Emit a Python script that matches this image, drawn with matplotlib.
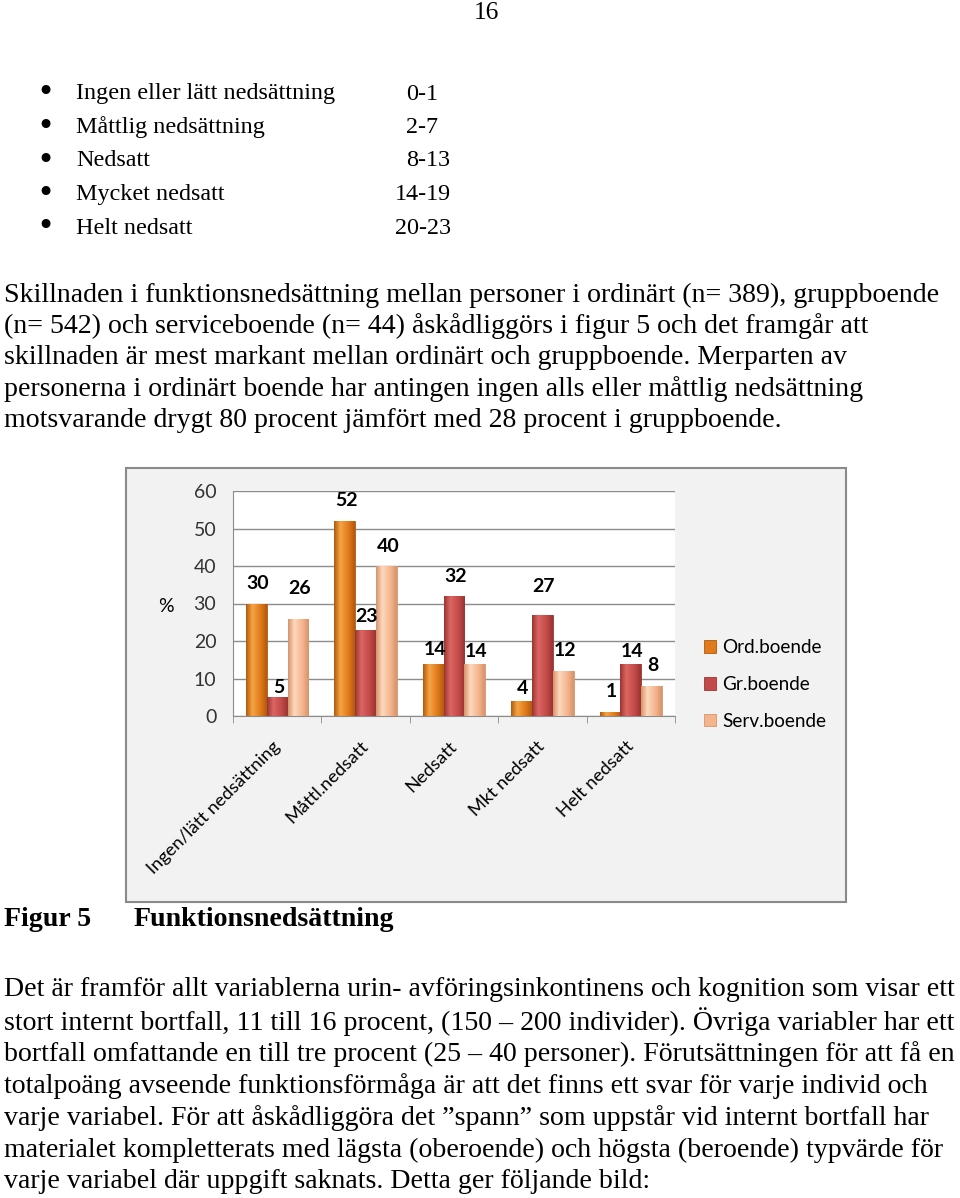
import numpy as np
import matplotlib.pyplot as plt
from matplotlib.colors import LinearSegmentedColormap
from matplotlib.patches import Rectangle, Patch
from matplotlib.transforms import ScaledTranslation

# chart data
categories = ['Ingen/lätt nedsättning', 'Måttl.nedsatt', 'Nedsatt', 'Mkt nedsatt', 'Helt nedsatt']
series_names = ['Ord.boende', 'Gr.boende', 'Serv.boende']
ord_boende = [30, 52, 14, 4, 1]
gr_boende = [5, 23, 32, 27, 14]
serv_boende = [26, 40, 14, 12, 8]
y_ticks = [0, 10, 20, 30, 40, 50, 60]

# page text
page_number = '16'
bullet_items = ['Ingen eller lätt nedsättning', 'Måttlig nedsättning', 'Nedsatt',
                'Mycket nedsatt', 'Helt nedsatt']
bullet_ranges = ['0-1', '2-7', '8-13', '14-19', '20-23']
para1 = [
    'Skillnaden i funktionsnedsättning mellan personer i ordinärt (n= 389), gruppboende',
    '(n= 542) och serviceboende (n= 44) åskådliggörs i figur 5 och det framgår att',
    'skillnaden är mest markant mellan ordinärt och gruppboende. Merparten av',
    'personerna i ordinärt boende har antingen ingen alls eller måttlig nedsättning',
    'motsvarande drygt 80 procent jämfört med 28 procent i gruppboende.',
]
caption_num = 'Figur 5'
caption_title = 'Funktionsnedsättning'
para2 = [
    'Det är framför allt variablerna urin- avföringsinkontinens och kognition som visar ett',
    'stort internt bortfall, 11 till 16 procent, (150 – 200 individer). Övriga variabler har ett',
    'bortfall omfattande en till tre procent (25 – 40 personer). Förutsättningen för att få en',
    'totalpoäng avseende funktionsförmåga är att det finns ett svar för varje individ och',
    'varje variabel. För att åskådliggöra det ”spann” som uppstår vid internt bortfall har',
    'materialet kompletterats med lägsta (oberoende) och högsta (beroende) typvärde för',
    'varje variabel där uppgift saknats. Detta ger följande bild:',
]

W, H = 960, 1198
fig = plt.figure(figsize=(W / 100, H / 100), dpi=100)
fig.patch.set_facecolor('white')

serif = 'Liberation Serif'
sans = 'Lato'
body = 20.1


def fx(x):
    return x / W


def fy(y):
    return 1 - y / H


def put(x, y, s, **kw):
    kw.setdefault('fontsize', body)
    kw.setdefault('family', serif)
    fig.text(fx(x), fy(y), s, va='center', ha=kw.pop('ha', 'left'), **kw)


put(486, 13, page_number, ha='center', fontsize=18.3)

bullet_x_range = [406, 406, 406, 395, 395]
for i, (item, rng) in enumerate(zip(bullet_items, bullet_ranges)):
    y = 94 + i * 33.5
    put(45, y - 1, '•', ha='center', fontsize=22, family='DejaVu Sans')
    put(76, y, item, fontsize=17.4)
    put(bullet_x_range[i], y, rng, fontsize=17.4)

for i, line in enumerate(para1):
    put(4, 295 + i * 31.5, line)

put(4, 920, caption_num, weight='bold')
put(134, 920, caption_title, weight='bold')

for i, line in enumerate(para2):
    put(4, 990 + i * 32, line)

# chart frame
fig.patches.append(Rectangle((fx(126), fy(902)), 720 / W, 434 / H, transform=fig.transFigure,
                             facecolor='#f2f2f2', edgecolor='#8a8a8a', lw=1.5, zorder=0))

ax = fig.add_axes([fx(233), fy(716), 442 / W, 225 / H])
ax.set_zorder(2)
ax.set_facecolor('white')

colors = [
    ('#b25a0e', '#f5a445', '#e07a1a'),
    ('#9a3533', '#dc6663', '#c24a48'),
    ('#d8946b', '#fdd8bd', '#f4b48e'),
]
series = [ord_boende, gr_boende, serv_boende]
# how far (px) each value label sits above its bar, as Excel placed them
label_lift = [
    [20, 20, 14, 13, 21],
    [10, 13, 19, 28, 12],
    [30, 20, 12, 21, 21],
]
x = np.arange(len(categories))
w = 0.235
grad = np.linspace(0, 1, 64).reshape(1, -1)

for k, (vals, (dark, light, base)) in enumerate(zip(series, colors)):
    cmap = LinearSegmentedColormap.from_list(
        'g%d' % k, [(0, dark), (0.3, light), (0.7, base), (1, dark)])
    bars = ax.bar(x + (k - 1) * w, vals, w, color=base, edgecolor=dark, lw=0.6, zorder=3)
    for b in bars:
        im = ax.imshow(grad, cmap=cmap, aspect='auto', zorder=3.5,
                       extent=(b.get_x(), b.get_x() + b.get_width(), 0, b.get_height()))
        im.set_clip_path(b)
    for xi, v, lift in zip(x + (k - 1) * w, vals, label_lift[k]):
        ax.annotate(str(v), (xi, v), xytext=(1, lift * 0.72), textcoords='offset points',
                    ha='center', va='center', fontsize=14, weight='bold', family=sans,
                    color='black', zorder=5)

ax.set_xlim(-0.5, len(categories) - 0.5)
ax.set_ylim(0, 60)
ax.set_yticks(y_ticks)
ax.yaxis.grid(True, color='#8c8c8c', lw=1)
ax.set_axisbelow(True)
for s in ['top', 'right']:
    ax.spines[s].set_visible(False)
for s in ['left', 'bottom']:
    ax.spines[s].set_color('#8c8c8c')
ax.tick_params(axis='y', length=0, pad=12, labelsize=14, labelcolor='#333333')
for lab in ax.get_yticklabels():
    lab.set_family(sans)

ax.set_xticks(x)
ax.set_xticklabels(categories, rotation=45, ha='right', va='center', rotation_mode='anchor',
                   fontsize=13.2, family=sans, color='black')
ax.set_xticks(np.arange(-0.5, len(categories)), minor=True)
ax.tick_params(axis='x', which='major', length=0, pad=20)
ax.tick_params(axis='x', which='minor', length=5, color='#8c8c8c')
for lab in ax.get_xticklabels():
    lab.set_transform(lab.get_transform() + ScaledTranslation(0, 0, fig.dpi_scale_trans))

fig.text(fx(166), fy(607), '%', fontsize=14, family=sans, ha='center', va='center')

handles = [Patch(facecolor=c[2], edgecolor=c[0], lw=0.6) for c in colors]
leg = fig.legend(handles, series_names, loc='upper left', bbox_to_anchor=(fx(704), fy(639)),
                 frameon=False, prop={'family': sans, 'size': 13.6},
                 handlelength=0.65, handleheight=0.65, handletextpad=0.3, labelspacing=1.05,
                 borderpad=0, borderaxespad=0)
leg.set_zorder(3)

fig.savefig('out.png', dpi=100)
